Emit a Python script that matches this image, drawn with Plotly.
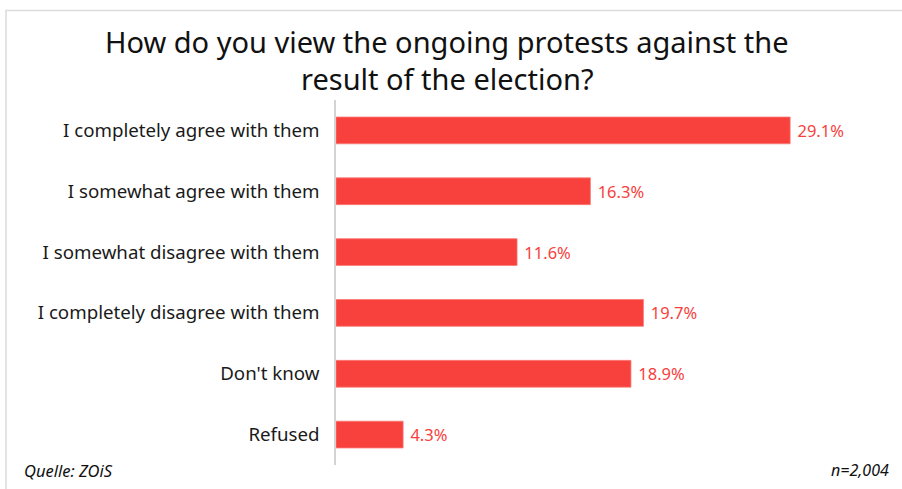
import plotly.graph_objects as go

categories = [
    "I completely agree with them",
    "I somewhat agree with them",
    "I somewhat disagree with them",
    "I completely disagree with them",
    "Don't know",
    "Refused",
]
values = [29.1, 16.3, 11.6, 19.7, 18.9, 4.3]
labels = [f" {v:.1f}%" for v in values]
title_lines = ["How do you view the ongoing protests against the", "result of the election?"]

BAR = "#f8413d"
W, H = 902, 489
L, R, T, B = 336, 90, 100, 24
pw = W - L - R
ph = H - T - B

def px(x):
    return (x - L) / pw

def py(y):
    return (H - B - y) / ph

fig = go.Figure(
    go.Bar(
        x=values,
        y=categories,
        orientation="h",
        width=0.44,
        marker=dict(color=BAR, line=dict(color="#fa7a76", width=0.8)),
        text=labels,
        textposition="outside",
        textfont=dict(color=BAR, size=16.5, family="Noto Sans"),
        cliponaxis=False,
        hoverinfo="skip",
    )
)

title_ann = [
    dict(
        text=t,
        xref="paper",
        yref="paper",
        x=px(447),
        y=py(yy),
        xanchor="center",
        yanchor="middle",
        showarrow=False,
        font=dict(size=29, family="Noto Sans", color="#111111"),
    )
    for t, yy in zip(title_lines, [42, 78])
]

fig.update_layout(
    width=W,
    height=H,
    margin=dict(l=L, r=R, t=T, b=B),
    paper_bgcolor="white",
    plot_bgcolor="white",
    font=dict(family="Noto Sans", color="#1a1a1a"),
    showlegend=False,
    xaxis=dict(range=[0, 30.5], visible=False, fixedrange=True),
    yaxis=dict(
        autorange="reversed",
        showline=True,
        linecolor="#d4d4d4",
        linewidth=1.5,
        showgrid=False,
        ticks="",
        ticklabelstandoff=11,
        tickfont=dict(size=18.7, family="Noto Sans", color="#1a1a1a"),
    ),
    shapes=[
        dict(
            type="rect",
            xref="paper",
            yref="paper",
            x0=px(6),
            x1=px(910),
            y0=py(500),
            y1=py(10.5),
            line=dict(color="#dcdcdc", width=1.5),
            fillcolor="rgba(0,0,0,0)",
            layer="below",
        )
    ],
    annotations=title_ann + [
        dict(
            text="<i>Quelle: ZOiS</i>",
            xref="paper",
            yref="paper",
            x=px(22),
            y=py(470),
            xanchor="left",
            yanchor="middle",
            showarrow=False,
            font=dict(size=16.5, family="Noto Sans", color="#111111"),
        ),
        dict(
            text="<i>n=2,004</i>",
            xref="paper",
            yref="paper",
            x=px(891),
            y=py(470),
            xanchor="right",
            yanchor="middle",
            showarrow=False,
            font=dict(size=16, family="Noto Sans", color="#111111"),
        ),
    ],
)

fig.write_html("out.html")
